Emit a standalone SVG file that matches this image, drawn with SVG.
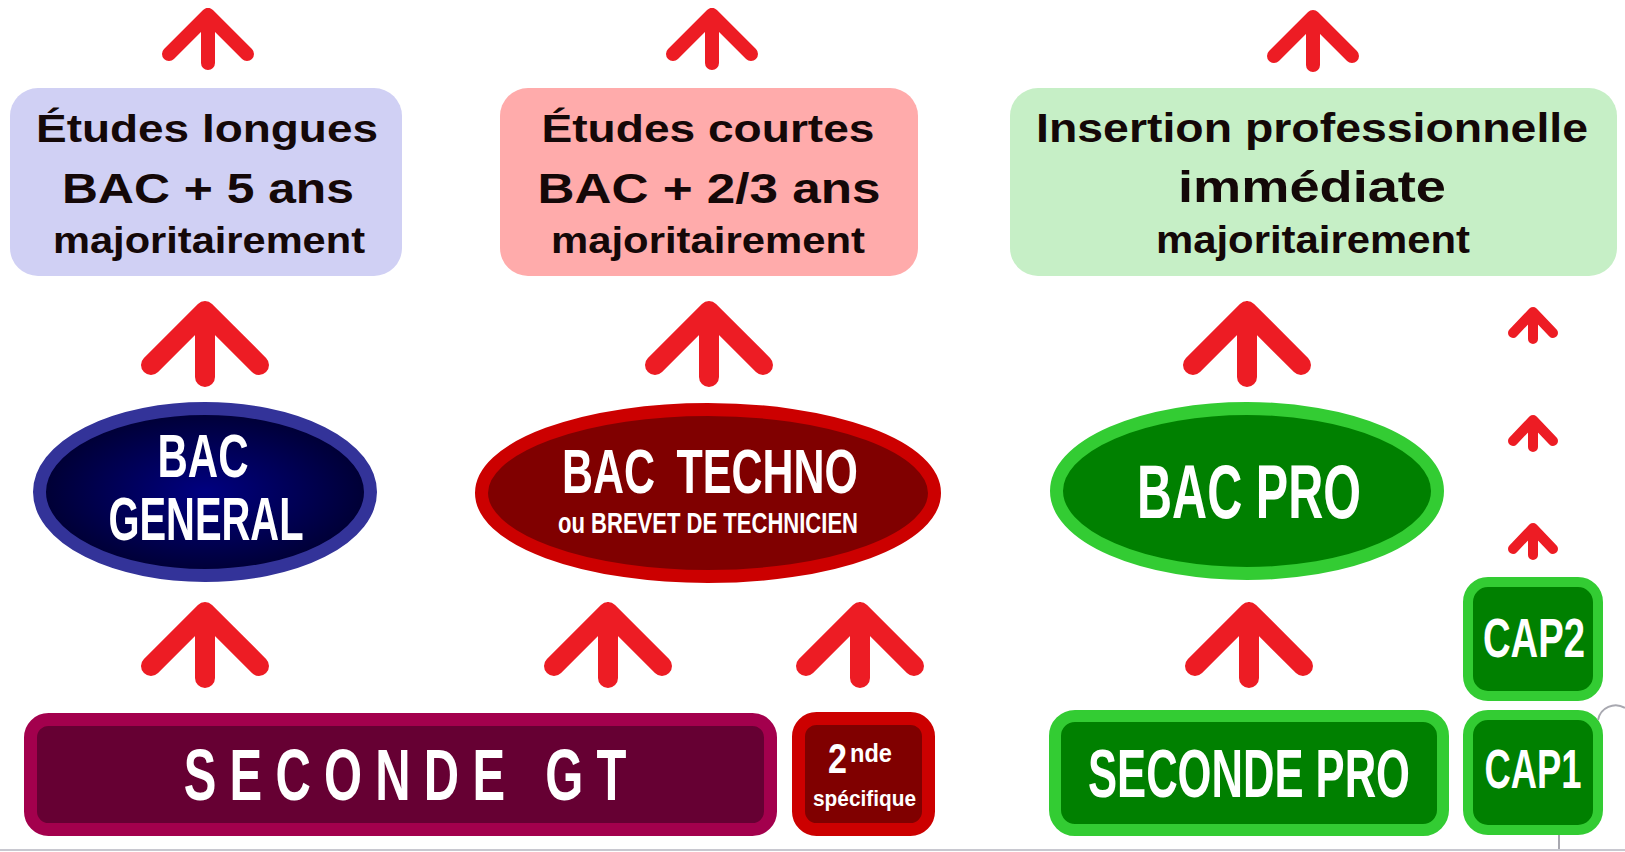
<svg xmlns="http://www.w3.org/2000/svg" width="1625" height="852" viewBox="0 0 1625 852">
<style>
.arrow{fill:none;stroke:#ed1c24;stroke-linecap:round;stroke-linejoin:round}
.a14{stroke-width:14}.a20{stroke-width:20}.a10{stroke-width:10}
.dark{font-family:"Liberation Sans",Arial,sans-serif;font-weight:bold;fill:#140808;text-anchor:middle}
.wt{font-family:"Liberation Sans Narrow","Liberation Sans",Arial,sans-serif;font-weight:bold;fill:#ffffff;text-anchor:middle}
</style>
<defs>
<radialGradient id="navy" cx="50%" cy="50%" r="50%">
<stop offset="0" stop-color="#000080"/>
<stop offset="1" stop-color="#000033"/>
</radialGradient>
</defs>
<rect width="1625" height="852" fill="#ffffff"/>

<g id="connectors">
<path class="arrow a14" d="M169,54 L208,15 L247,54 M208,15 L208,63"/>
<path class="arrow a14" d="M673,54 L712,15 L751,54 M712,15 L712,63"/>
<path class="arrow a14" d="M1274,56 L1313,17 L1352,56 M1313,17 L1313,65"/>
<path class="arrow a20" d="M151,365 L205,311 L259,365 M205,311 L205,377"/>
<path class="arrow a20" d="M655,365 L709,311 L763,365 M709,311 L709,377"/>
<path class="arrow a20" d="M1193,365 L1247,311 L1301,365 M1247,311 L1247,377"/>
<path class="arrow a10" d="M1513,333 L1533,312 L1553,333 M1533,312 L1533,339"/>
<path class="arrow a10" d="M1513,441 L1533,420 L1553,441 M1533,420 L1533,447"/>
<path class="arrow a10" d="M1513,549 L1533,528 L1553,549 M1533,528 L1533,555"/>
<path class="arrow a20" d="M151,666 L205,612 L259,666 M205,612 L205,678"/>
<path class="arrow a20" d="M554,666 L608,612 L662,666 M608,612 L608,678"/>
<path class="arrow a20" d="M806,666 L860,612 L914,666 M860,612 L860,678"/>
<path class="arrow a20" d="M1195,666 L1249,612 L1303,666 M1249,612 L1249,678"/>
</g>

<g id="etudes-longues">
<rect x="10" y="88" width="392" height="188" rx="28" fill="#d0d0f4"/>
<text class="dark" x="207" y="142" font-size="38" textLength="342" lengthAdjust="spacingAndGlyphs">Études longues</text>
<text class="dark" x="208" y="203" font-size="42" textLength="292" lengthAdjust="spacingAndGlyphs">BAC + 5 ans</text>
<text class="dark" x="209" y="253" font-size="37" textLength="312" lengthAdjust="spacingAndGlyphs">majoritairement</text>
</g>

<g id="etudes-courtes">
<rect x="500" y="88" width="418" height="188" rx="28" fill="#ffabab"/>
<text class="dark" x="708" y="142" font-size="38" textLength="333" lengthAdjust="spacingAndGlyphs">Études courtes</text>
<text class="dark" x="709" y="203" font-size="42" textLength="343" lengthAdjust="spacingAndGlyphs">BAC + 2/3 ans</text>
<text class="dark" x="708" y="253" font-size="37" textLength="314" lengthAdjust="spacingAndGlyphs">majoritairement</text>
</g>

<g id="insertion-pro">
<rect x="1010" y="88" width="607" height="188" rx="28" fill="#c6efc6"/>
<text class="dark" x="1312" y="142" font-size="40" textLength="552" lengthAdjust="spacingAndGlyphs">Insertion professionnelle</text>
<text class="dark" x="1312" y="202" font-size="45" textLength="268" lengthAdjust="spacingAndGlyphs">immédiate</text>
<text class="dark" x="1313" y="253" font-size="38" textLength="314" lengthAdjust="spacingAndGlyphs">majoritairement</text>
</g>

<g id="bac-general">
<ellipse cx="205" cy="492" rx="165.5" ry="83.5" fill="url(#navy)" stroke="#333399" stroke-width="13"/>
<text class="wt" x="203" y="477" font-size="62" textLength="91" lengthAdjust="spacingAndGlyphs">BAC</text>
<text class="wt" x="206" y="540" font-size="62" textLength="195" lengthAdjust="spacingAndGlyphs">GENERAL</text>
</g>

<g id="bac-techno">
<ellipse cx="708" cy="493" rx="226.5" ry="83.5" fill="#800000" stroke="#cc0000" stroke-width="13"/>
<text class="wt" x="710" y="493" font-size="63" word-spacing="14" textLength="296" lengthAdjust="spacingAndGlyphs">BAC TECHNO</text>
<text class="wt" x="708" y="533" font-size="29" textLength="300" lengthAdjust="spacingAndGlyphs">ou BREVET DE TECHNICIEN</text>
</g>

<g id="bac-pro">
<ellipse cx="1247" cy="491" rx="190.5" ry="82.5" fill="#008000" stroke="#33cc33" stroke-width="13"/>
<text class="wt" x="1249" y="518" font-size="76" textLength="224" lengthAdjust="spacingAndGlyphs">BAC PRO</text>
</g>

<g id="seconde-gt">
<rect x="30.5" y="719.5" width="740" height="110" rx="18" fill="#660033" stroke="#a3004d" stroke-width="13"/>
<g transform="translate(405,800) scale(0.68,1)">
<text class="wt" x="0" y="0" font-size="72" textLength="651" lengthAdjust="spacing">SECONDE  GT</text>
</g>
</g>

<g id="seconde-specifique">
<rect x="798.5" y="718.5" width="130" height="111" rx="18" fill="#800000" stroke="#cc0000" stroke-width="13"/>
<text class="wt" x="837.5" y="773" font-size="43" textLength="19" lengthAdjust="spacingAndGlyphs">2</text>
<text class="wt" x="871" y="762" font-size="26" textLength="42" lengthAdjust="spacingAndGlyphs">nde</text>
<text class="wt" x="864.5" y="806" font-size="22" textLength="103" lengthAdjust="spacingAndGlyphs">spécifique</text>
</g>

<g id="seconde-pro">
<rect x="1055" y="716" width="388" height="114" rx="20" fill="#008000" stroke="#33cc33" stroke-width="12"/>
<text class="wt" transform="translate(1249,797) scale(1,1.29)" x="0" y="0" font-size="53" textLength="322" lengthAdjust="spacingAndGlyphs">SECONDE PRO</text>
</g>

<g id="cap2">
<rect x="1468" y="582" width="130" height="114" rx="20" fill="#008000" stroke="#33cc33" stroke-width="10"/>
<text class="wt" transform="translate(1534,657) scale(1,1.18)" x="0" y="0" font-size="46.5" textLength="102" lengthAdjust="spacingAndGlyphs">CAP2</text>
</g>

<g id="cap1">
<rect x="1468" y="715" width="130" height="115" rx="20" fill="#008000" stroke="#33cc33" stroke-width="10"/>
<text class="wt" transform="translate(1533,788) scale(1,1.24)" x="0" y="0" font-size="44.4" textLength="97" lengthAdjust="spacingAndGlyphs">CAP1</text>
</g>

<g id="edge-marks" fill="none" stroke="#a8a8b0" stroke-width="2">
<path d="M1598,720 A18,18 0 0 1 1625,708"/>
<line x1="1559" y1="835" x2="1559" y2="850"/>
<line x1="0" y1="850" x2="1625" y2="850" stroke="#c8c8d0"/>
</g>
</svg>
